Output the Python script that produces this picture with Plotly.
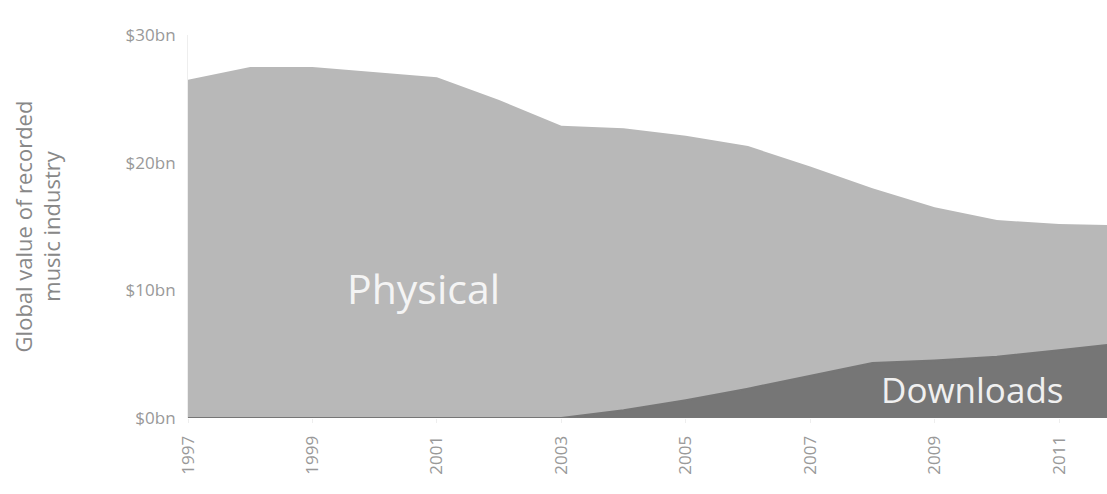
import plotly.graph_objects as go

years = list(range(1997, 2013))
downloads = [0, 0, 0, 0, 0, 0, 0, 0.6, 1.4, 2.3, 3.3, 4.3, 4.5, 4.8, 5.3, 5.85]
physical = [26.5, 27.5, 27.5, 27.1, 26.7, 24.9, 22.9, 22.1, 20.7, 19.0, 16.4, 13.7, 12.0, 10.7, 9.9, 9.25]
y_ticks = [0, 10, 20, 30]
y_tick_labels = ["$0bn", "$10bn", "$20bn", "$30bn"]
x_ticks = [1997, 1999, 2001, 2003, 2005, 2007, 2009, 2011]

FONT = "'Open Sans', Lato, sans-serif"

fig = go.Figure()
fig.add_trace(go.Scatter(
    x=years, y=downloads, name="Downloads", stackgroup="one",
    mode="lines", line=dict(color="#767676", width=2),
    fillcolor="#767676", hoverinfo="x+y",
))
fig.add_trace(go.Scatter(
    x=years, y=physical, name="Physical", stackgroup="one",
    mode="lines", line=dict(color="#b8b8b8", width=0),
    fillcolor="#b8b8b8", hoverinfo="x+y",
))

fig.add_annotation(x=2000.78, y=10.2, text="Physical", showarrow=False,
                   font=dict(family=FONT, size=41, color="#f4f4f4"))
fig.add_annotation(x=2009.6, y=2.2, text="Downloads", showarrow=False,
                   font=dict(family=FONT, size=35, color="#f0f0f0"))

fig.update_layout(
    width=1107, height=494,
    margin=dict(l=188, r=0, t=35, b=76),
    paper_bgcolor="white", plot_bgcolor="white",
    showlegend=False,
    font=dict(family=FONT, color="#999999"),
    xaxis=dict(
        range=[1997, 2011.77], tickvals=x_ticks, tickangle=-90,
        showgrid=False, zeroline=False, showline=False,
        ticks="outside", ticklen=4, tickcolor="#eeeeee",
        ticklabelstandoff=6,
        tickfont=dict(family=FONT, size=17, color="#999999"),
    ),
    yaxis=dict(
        range=[0, 30], tickvals=y_ticks, ticktext=y_tick_labels,
        showgrid=False, zeroline=False,
        showline=True, linecolor="#eeeeee", linewidth=1,
        ticks="", ticklabelstandoff=8,
        tickfont=dict(family=FONT, size=17, color="#999999"),
        title=dict(text="Global value of recorded<br>music industry",
                   font=dict(family=FONT, size=22, color="#888888"),
                   standoff=58),
    ),
)

fig.write_html("out.html")
